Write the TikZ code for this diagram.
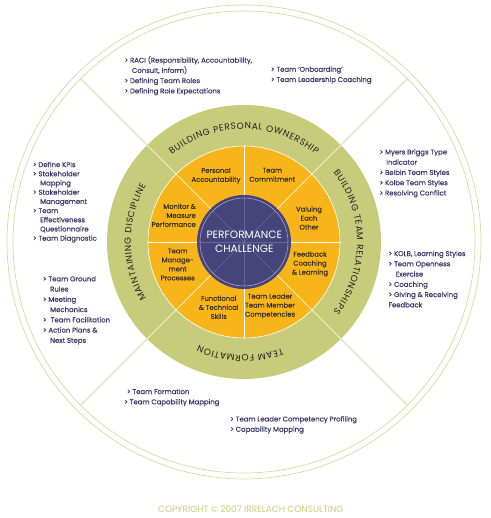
\documentclass[tikz,border=0pt]{standalone}
\usepackage{fontspec}
\setmainfont{Poppins}
\newfontfamily\boldish{Poppins}[FakeBold=0.35]
\usetikzlibrary{decorations.text}
\definecolor{ringgreen}{HTML}{C6CC7A}
\definecolor{segorange}{HTML}{F7B51A}
\definecolor{coredark}{HTML}{46457B}
\definecolor{listblue}{HTML}{393868}
\definecolor{linegreen}{HTML}{D5DBA4}
\definecolor{labeldark}{HTML}{222222}
\definecolor{segtextc}{HTML}{3A3020}
\definecolor{corelines}{HTML}{65659A}
\definecolor{copygreen}{HTML}{C5CE78}
\tikzset{
  listtext/.style={font=\boldish\fontsize{6.9}{10.25}\selectfont, text=listblue, align=left, anchor=north west, inner sep=0pt},
  segtext/.style={font=\boldish\fontsize{6.8}{9}\selectfont, text=segtextc, align=center, inner sep=0pt},
  ringlabel/.style={decorate, decoration={text effects along path, text={#1}, text align=center,
     text effects/.cd,
     characters={text along path, font=\fontsize{9}{10}\selectfont, text=labeldark},
     character widths={font=\fontsize{9}{10}\selectfont, inner xsep=0.32pt}}},
  outerline/.style={linegreen, line width=0.7pt},
  whiteline/.style={white, line width=0.7pt},
}
\begin{document}
\begin{tikzpicture}[x=1pt,y=1pt]
\useasboundingbox[fill=white] (-244,-276) rectangle (246,242);
\coordinate (c) at (0,0);
% outer guide circles and diagonals
\draw[outerline] (c) circle[radius=237];
\draw[outerline] (c) circle[radius=231];
\foreach \a in {45,135,225,315} \draw[outerline, line width=0.8pt] (\a:137) -- (\a:231);
% green ring
\fill[ringgreen] (c) circle[radius=137];
% orange ring
\fill[segorange] (c) circle[radius=96];
\draw[white, line width=0.6pt] (c) circle[radius=96];
\foreach \a in {45,135,225,315} \draw[whiteline] (\a:96) -- (\a:137);
\foreach \a in {0,45,...,315} \draw[whiteline] (\a:47) -- (\a:96);
% core
\fill[coredark] (c) circle[radius=47];
\foreach \a in {0,45,...,315} \draw[corelines, line width=0.5pt] (c) -- (\a:44);
\draw[corelines!60!white, line width=0.6pt] (c) circle[radius=44];
\node[font=\fontsize{10.6}{13.3}\selectfont, text=white, align=center, inner sep=0pt] (core) at (0.3,0.3) {PERFORMANCE\\CHALLENGE};
% ring labels
\path[ringlabel={BUILDING PERSONAL OWNERSHIP}] (150:113) arc[start angle=150, end angle=30, radius=113];
\path[ringlabel={BUILDING TEAM RELATIONSHIPS}] (60:113) arc[start angle=60, end angle=-60, radius=113];
\path[ringlabel={TEAM FORMATION}] (-22:113) arc[start angle=-22, end angle=-162, radius=113];
\path[ringlabel={MAINTAINING DISCIPLINE}] (240:113) arc[start angle=240, end angle=120, radius=113];
% pixel-coordinate scope for texts
\begin{scope}[shift={(-244pt,242pt)}, y=-1pt]
\node[segtext] (s1) at (216,175.7) {Personal\\Accountability};
\node[segtext] (s2) at (272.3,174.8) {Team\\Commitment};
\node[segtext] (s3) at (309,218) {Valuing\\Each\\Other};
\node[segtext] (s4) at (310,264) {Feedback\\Coaching\\\& Learning};
\node[segtext] (s5) at (270,306) {Team Leader\\Team Member\\Competencies};
\node[segtext] (s6) at (218.7,307.3) {Functional\\\& Technical\\Skills};
\node[segtext] (s7) at (177.7,264.5) {Team\\Manage-\\ment\\Processes};
\node[segtext, align=right, anchor=east] (s8) at (196,215.3) {Monitor \&\\Measure\\Performance};
% lists
\node[listtext] (l1) at (124.3,56) {> RACI (Responsibility, Accountability,\\\hspace*{7.5pt}Consult, Inform)\\> Defining Team Roles\\> Defining Role Expectations};
\node[listtext] (l2) at (270.7,66.3) {> Team ‘Onboarding’\\> Team Leadership Coaching};
\node[listtext] (l3) at (379.3,149) {> Myers Briggs Type\\\hspace*{6.8pt}Indicator\\> Belbin Team Styles\\> Kolbe Team Styles\\> Resolving Conflict};
\node[listtext] (l4) at (388.3,250.6) {> KOLB, Learning Styles\\> Team Openness\\\hspace*{7.3pt}Exercise\\> Coaching\\> Giving \& Receiving\\Feedback};
\node[listtext, font=\boldish\fontsize{6.9}{9.2}\selectfont] (l5) at (32.7,161.6) {> Define KPIs\\> Stakeholder\\\hspace*{7.3pt}Mapping\\> Stakeholder\\\hspace*{7.3pt}Management\\> Team\\\hspace*{7.3pt}Effectiveness\\\hspace*{7.3pt}Questionnaire\\> Team Diagnostic};
\node[listtext] (l6) at (42.7,276) {> Team Ground\\\hspace*{7.3pt}Rules\\> Meeting\\\hspace*{7.3pt}Mechanics\\> \hspace{2.3pt}Team Facilitation\\> Action Plans \&\\\hspace*{7.3pt}Next Steps};
\node[listtext] (l7) at (124,388.6) {\hspace*{2.7pt}> Team Formation\\> Team Capability Mapping};
\node[listtext] (l8) at (230,416) {> Team Leader Competency Profiling\\> Capability Mapping};
\node[font=\fontsize{9}{10}\selectfont, text=copygreen, inner sep=0pt] (copy) at (250.8,509.3) {COPYRIGHT © 2007 IRRELACH CONSULTING};
\end{scope}
\end{tikzpicture}
\end{document}
